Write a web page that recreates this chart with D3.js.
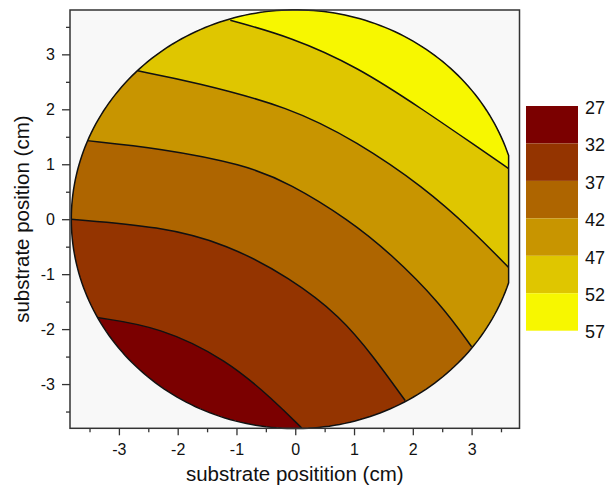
<!DOCTYPE html>
<html>
<head>
<meta charset="utf-8">
<script src="https://cdn.jsdelivr.net/npm/d3@7"></script>
<style>
  body { margin: 0; background: #fff; }
  text { font-family: Arial, "Liberation Sans", sans-serif; fill: #111; }
</style>
</head>
<body>
<div id="chart"></div>
<script>
// contour levels and band colours (lowest band = dark red)
var levels = [27, 32, 37, 42, 47, 52, 57];
var bandColors = ["#7b0000", "#943400", "#ae6500", "#c89500", "#dfc600", "#f7f700"];

// wafer geometry (cm)
var waferRadius = 3.81;
var flatX = 3.63;

// contour lines, [x, y] in cm
var line32 = [[-3.37, -1.79], [-2.30, -1.96], [-1.16, -2.56], [-0.37, -3.29], [0.11, -3.80]];
var line37 = [[-3.82, 0.00], [-2.30, -0.13], [-1.16, -0.45], [-0.085, -1.07], [0.77, -1.77], [1.33, -2.50], [1.87, -3.30]];
var line42 = [[-3.54, 1.43], [-2.30, 1.29], [-0.88, 1.00], [-0.085, 0.65], [0.91, -0.01], [1.62, -0.62], [2.47, -1.53], [3.00, -2.32]];
var line47 = [[-2.68, 2.70], [-1.73, 2.50], [-0.085, 2.04], [1.05, 1.41], [2.18, 0.59], [3.03, -0.22], [3.63, -0.88]];
var line52 = [[-1.105, 3.62], [-0.085, 3.32], [1.05, 2.78], [2.18, 1.99], [3.09, 1.32], [3.63, 0.92]];
var contourLines = [line32, line37, line42, line47, line52];

var xTicks = [-3, -2, -1, 0, 1, 2, 3];
var yTicks = [-3, -2, -1, 0, 1, 2, 3];
var xMinor = [-3.5, -2.5, -1.5, -0.5, 0.5, 1.5, 2.5, 3.5];
var yMinor = [-3.5, -2.5, -1.5, -0.5, 0.5, 1.5, 2.5, 3.5];

function drawChart() {
    var W = 613, H = 489;
    var margin = { top: 10, left: 70 };
    var w = 449.5, h = 418.3;

    var svg = d3.select("#chart").append("svg")
        .attr("width", W)
        .attr("height", H);

    var g = svg.append("g")
        .attr("transform", "translate(" + margin.left + "," + margin.top + ")");

    var xScale = d3.scaleLinear().domain([-3.832, 3.815]).range([0, w]);
    var yScale = d3.scaleLinear().domain([-3.805, 3.807]).range([h, 0]);

    var color = d3.scaleOrdinal().domain(d3.range(bandColors.length)).range(bandColors);

    // plot background
    g.append("rect")
        .attr("width", w)
        .attr("height", h)
        .style("fill", "#f8f8f8");

    // wafer outline: circle with a flat on the right
    var a0 = Math.acos(flatX / waferRadius);
    var waferPts = d3.range(0, 241).map(function (i) {
        var a = a0 + (2 * Math.PI - 2 * a0) * i / 240;
        return [waferRadius * Math.cos(a), waferRadius * Math.sin(a)];
    });

    var straight = d3.line()
        .x(function (d) { return xScale(d[0]); })
        .y(function (d) { return yScale(d[1]); });

    var curve = d3.line()
        .x(function (d) { return xScale(d[0]); })
        .y(function (d) { return yScale(d[1]); })
        .curve(d3.curveBasis);

    g.append("clipPath")
        .attr("id", "wafer")
        .append("path")
        .attr("d", straight(waferPts) + "Z");

    var bands = g.append("g").attr("clip-path", "url(#wafer)");

    bands.append("path")
        .attr("d", straight(waferPts) + "Z")
        .style("fill", color(0));

    // region above each contour line gets the next band colour
    contourLines.forEach(function (pts, k) {
        var s = pts[0], e = pts[pts.length - 1];
        var pre = straight([[s[0] * 1.6, s[1] * 1.6]]);
        var post = straight([[e[0] * 1.6, e[1] * 1.6], [9, -9], [9, 9], [-9, 9]]).slice(1);
        var d = pre + "L" + curve(pts).slice(1) + "L" + post + "Z";
        bands.append("path")
            .attr("d", d)
            .style("fill", color(k + 1));
    });

    contourLines.forEach(function (pts) {
        bands.append("path")
            .attr("d", curve(pts))
            .style("fill", "none")
            .style("stroke", "#111")
            .style("stroke-width", 1.5);
    });

    g.append("path")
        .attr("d", straight(waferPts) + "Z")
        .style("fill", "none")
        .style("stroke", "#111")
        .style("stroke-width", 1.5);

    // axes
    g.append("g")
        .attr("transform", "translate(0," + h + ")")
        .call(d3.axisBottom(xScale).tickValues(xTicks).tickSize(7).tickPadding(8)
            .tickFormat(function (d) { return String(d); }));
    g.append("g")
        .attr("transform", "translate(0," + h + ")")
        .call(d3.axisBottom(xScale).tickValues(xMinor).tickSize(4).tickFormat(""));

    g.append("g")
        .call(d3.axisLeft(yScale).tickValues(yTicks).tickSize(8).tickPadding(7)
            .tickFormat(function (d) { return String(d); }));
    g.append("g")
        .call(d3.axisLeft(yScale).tickValues(yMinor).tickSize(4).tickFormat(""));

    g.selectAll(".domain").remove();
    g.selectAll(".tick line").style("stroke", "#333").style("stroke-width", 1.3);
    g.selectAll(".tick text")
        .style("font-size", "16px")
        .style("font-family", "Arial, 'Liberation Sans', sans-serif")
        .style("fill", "#111");

    // frame
    g.append("rect")
        .attr("width", w)
        .attr("height", h)
        .style("fill", "none")
        .style("stroke", "#333")
        .style("stroke-width", 1.5);

    // axis titles
    svg.append("text")
        .attr("x", margin.left + w / 2)
        .attr("y", 481)
        .attr("text-anchor", "middle")
        .style("font-size", "20.5px")
        .text("substrate positition (cm)");

    svg.append("text")
        .attr("transform", "translate(29," + (margin.top + h / 2) + ") rotate(-90)")
        .attr("text-anchor", "middle")
        .style("font-size", "20.5px")
        .text("substrate position (cm)");

    // legend
    var legY = d3.scaleLinear().domain([0, bandColors.length]).range([106, 330.7]);
    var legend = svg.append("g");

    legend.selectAll("rect")
        .data(bandColors)
        .enter().append("rect")
        .attr("x", 526)
        .attr("y", function (d, i) { return legY(i); })
        .attr("width", 52)
        .attr("height", function (d, i) { return legY(i + 1) - legY(i); })
        .style("fill", function (d, i) { return color(i); });

    legend.selectAll("text")
        .data(levels)
        .enter().append("text")
        .attr("x", 585)
        .attr("y", function (d, i) { return legY(i) + 3; })
        .attr("dominant-baseline", "middle")
        .style("font-size", "18px")
        .text(function (d) { return d; });
}

drawChart();
</script>
</body>
</html>
